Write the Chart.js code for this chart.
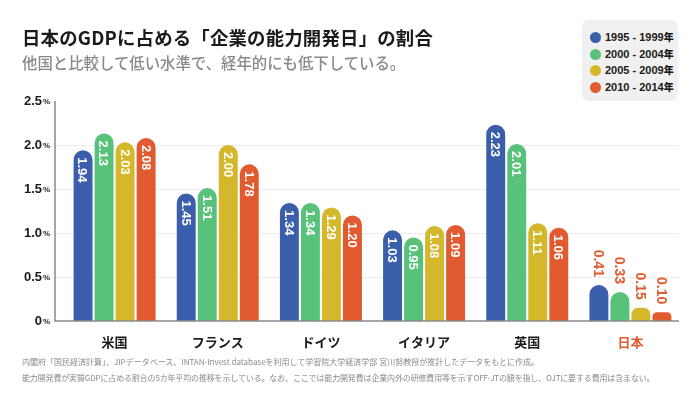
<!DOCTYPE html>
<html>
<head>
<meta charset="utf-8">
<script src="https://cdn.jsdelivr.net/npm/chart.js@4"></script>
<style>
  html, body { margin:0; padding:0; background:#fff; }
  body { width:700px; height:394px; position:relative; overflow:hidden; font-family:"Noto Sans CJK JP", sans-serif; }
  #wrap { position:absolute; left:0; top:0; width:700px; height:394px; }
  .title { position:absolute; left:22px; top:25px; font-size:18.4px; font-weight:700; color:#1a1a1a; line-height:24px; white-space:nowrap; letter-spacing:0.2px; }
  .sub { position:absolute; left:22px; top:51px; font-size:15.4px; font-weight:500; color:#8a8a8a; line-height:22px; white-space:nowrap; }
  .legend { position:absolute; left:582px; top:20px; width:96px; height:81px; background:#f0f0f0; border-radius:7px; }
  .li { position:absolute; left:8px; height:14px; font-family:"Liberation Sans", Arial, sans-serif; font-weight:700; font-size:11px; color:#1a1a1a; line-height:14px; white-space:nowrap; }
  .li i { display:inline-block; width:11px; height:11px; border-radius:50%; vertical-align:-2px; margin-right:4px; }
  .li b { font-family:"Noto Sans CJK JP", sans-serif; font-size:10px; }
  .note { position:absolute; left:22px; font-size:8px; color:#8a8a8a; line-height:11px; white-space:nowrap; }
</style>
</head>
<body>
<div id="wrap"><canvas id="c" width="700" height="394"></canvas></div>
<div class="title">日本のGDPに占める「企業の能力開発日」の割合</div>
<div class="sub">他国と比較して低い水準で、経年的にも低下している。</div>
<div class="legend" id="legend"></div>
<div class="note" style="top:356px">内閣府「国民経済計算」、JIPデータベース、INTAN-Invest databaseを利用して学習院大学経済学部 宮川努教授が推計したデータをもとに作成。</div>
<div class="note" style="top:372px; letter-spacing:-0.15px">能力開発費が実質GDPに占める割合の5カ年平均の推移を示している。なお、ここでは能力開発費は企業内外の研修費用等を示すOFF-JTの額を指し、OJTに要する費用は含まない。</div>
<script>
const categories = ["米国", "フランス", "ドイツ", "イタリア", "英国", "日本"];
const seriesNames = ["1995 - 1999", "2000 - 2004", "2005 - 2009", "2010 - 2014"];
const s1995 = [1.94, 1.45, 1.34, 1.03, 2.23, 0.41];
const s2000 = [2.13, 1.51, 1.34, 0.95, 2.01, 0.33];
const s2005 = [2.03, 2.00, 1.29, 1.08, 1.11, 0.15];
const s2010 = [2.08, 1.78, 1.20, 1.09, 1.06, 0.10];
const yTicks = [0, 0.5, 1.0, 1.5, 2.0, 2.5];
const yTickLabels = ["0", "0.5", "1.0", "1.5", "2.0", "2.5"];
const colors = ["#3b5eab", "#58c27a", "#d5b72c", "#e25a30"];
const highlightColor = "#e25a30";
const highlightIndex = 5;

// legend
const lg = document.getElementById('legend');
seriesNames.forEach((n, i) => {
  const d = document.createElement('div');
  d.className = 'li';
  d.style.top = (10 + i * 16.5) + 'px';
  d.innerHTML = '<i style="background:' + colors[i] + '"></i>' + n + '<b>年</b>';
  lg.appendChild(d);
});

const seriesData = [s1995, s2000, s2005, s2010];

const AXIS_X = 55, AXIS_RIGHT = 679;

const decor = {
  id: 'decor',
  beforeDatasetsDraw(chart) {
    const ctx = chart.ctx, y = chart.scales.y;
    ctx.save();
    ctx.strokeStyle = '#ececec';
    ctx.lineWidth = 1;
    yTicks.forEach(v => {
      if (v === 0 || v === 2.5) return;
      const py = Math.round(y.getPixelForValue(v)) + 0.5;
      ctx.beginPath(); ctx.moveTo(AXIS_X, py); ctx.lineTo(AXIS_RIGHT, py); ctx.stroke();
    });
    ctx.restore();
  },
  afterDatasetsDraw(chart) {
    const ctx = chart.ctx, y = chart.scales.y;
    ctx.save();
    const y0 = y.getPixelForValue(0), yTop = y.getPixelForValue(2.5);
    ctx.strokeStyle = '#8a8a8a';
    ctx.lineWidth = 1.5;
    ctx.beginPath(); ctx.moveTo(AXIS_X, yTop); ctx.lineTo(AXIS_X, y0); ctx.lineTo(AXIS_RIGHT, y0); ctx.stroke();
    // y tick labels
    ctx.fillStyle = '#1a1a1a';
    ctx.textBaseline = 'middle';
    yTicks.forEach((v, i) => {
      const py = y.getPixelForValue(v);
      ctx.font = 'bold 13px "Liberation Sans", Arial, sans-serif';
      ctx.textAlign = 'right';
      ctx.fillText(yTickLabels[i], 42, py);
      ctx.font = 'bold 8px "Liberation Sans", Arial, sans-serif';
      ctx.textAlign = 'left';
      ctx.fillText('%', 43, py + 1);
    });
    // data labels
    chart.data.datasets.forEach((ds, di) => {
      const meta = chart.getDatasetMeta(di);
      meta.data.forEach((bar, i) => {
        const txt = ds.data[i].toFixed(2);
        ctx.save();
        if (i === highlightIndex) {
          ctx.translate(bar.x, bar.y - 8);
          ctx.rotate(Math.PI / 2);
          ctx.font = 'bold 14px "Liberation Sans", Arial, sans-serif';
          ctx.fillStyle = highlightColor;
          ctx.textAlign = 'right';
        } else {
          ctx.translate(bar.x, bar.y + 7);
          ctx.rotate(Math.PI / 2);
          ctx.font = 'bold 13px "Liberation Sans", Arial, sans-serif';
          ctx.fillStyle = '#ffffff';
          ctx.textAlign = 'left';
        }
        ctx.textBaseline = 'middle';
        ctx.fillText(txt, 0, 1);
        ctx.restore();
      });
    });
    ctx.restore();
  }
};

new Chart(document.getElementById('c'), {
  type: 'bar',
  data: {
    labels: categories,
    datasets: seriesData.map((d, i) => ({
      label: seriesNames[i],
      data: d,
      backgroundColor: colors[i],
      borderRadius: { topLeft: 10, topRight: 10, bottomLeft: 0, bottomRight: 0 },
      borderSkipped: 'bottom',
      barPercentage: 0.9,
      categoryPercentage: 0.815
    }))
  },
  options: {
    responsive: false,
    animation: false,
    devicePixelRatio: 1,
    layout: { padding: { left: 63, right: 18, top: 101, bottom: 43 } },
    plugins: { legend: { display: false }, tooltip: { enabled: false }, title: { display: false } },
    scales: {
      y: {
        display: false,
        min: 0, max: 2.5
      },
      x: {
        grid: { display: false },
        border: { display: false },
        afterFit(scale) { scale.height = 30; },
        ticks: {
          padding: 5,
          font: { family: '"Noto Sans CJK JP", sans-serif', size: 13, weight: 'bold' },
          color: (c) => c.index === highlightIndex ? highlightColor : '#1a1a1a'
        }
      }
    }
  },
  plugins: [decor]
});
</script>
</body>
</html>
